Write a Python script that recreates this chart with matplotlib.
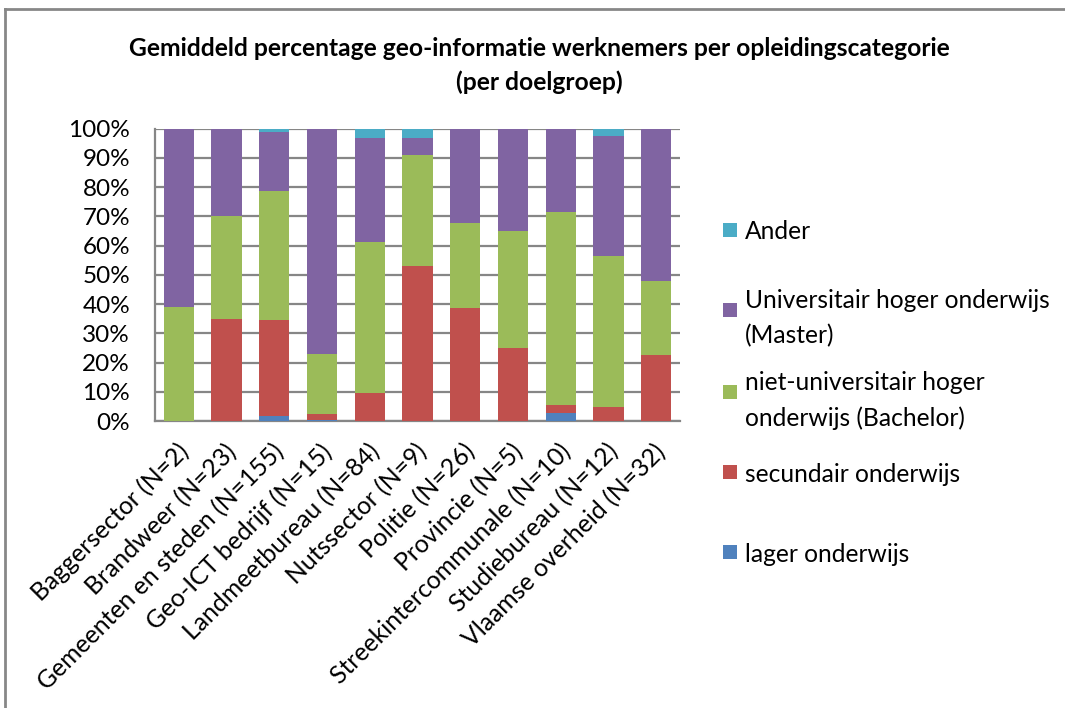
import matplotlib
matplotlib.use("Agg")
import matplotlib.pyplot as plt
import matplotlib.transforms as mtransforms
import numpy as np
from matplotlib.ticker import PercentFormatter, MultipleLocator
from matplotlib.patches import Rectangle
from matplotlib.lines import Line2D

plt.rcParams['font.family'] = ['Lato', 'DejaVu Sans']

title = "Gemiddeld percentage geo-informatie werknemers per opleidingscategorie\n(per doelgroep)"

categories = ["Baggersector (N=2)", "Brandweer (N=23)", "Gemeenten en steden (N=155)",
              "Geo-ICT bedrijf (N=15)", "Landmeetbureau (N=84)", "Nutssector (N=9)",
              "Politie (N=26)", "Provincie (N=5)", "Streekintercommunale (N=10)",
              "Studiebureau (N=12)", "Vlaamse overheid (N=32)"]

lager = [0, 0, 1.7, 0.4, 0, 0, 0, 0, 2.6, 0, 0]
secundair = [0, 35, 32.9, 2.1, 9.5, 52.9, 38.5, 25, 2.9, 4.9, 22.7]
bachelor = [39, 35, 44.2, 20.3, 51.6, 38.1, 29.2, 40, 66, 51.5, 25.2]
master = [61, 30, 20, 77.2, 35.8, 5.9, 32.3, 35, 28.5, 41.2, 52.1]
ander = [0, 0, 1.2, 0, 3.1, 3.1, 0, 0, 0, 2.4, 0]

series_names = ["lager onderwijs", "secundair onderwijs",
                "niet-universitair hoger\nonderwijs (Bachelor)",
                "Universitair hoger onderwijs\n(Master)", "Ander"]
series_values = [lager, secundair, bachelor, master, ander]
colors = ["#4F81BD", "#C0504D", "#9BBB59", "#8064A2", "#4BACC6"]

W, H = 1065, 708
fig = plt.figure(figsize=(W / 100, H / 100), dpi=100)
ax = fig.add_axes([155 / W, 1 - 421 / H, (680 - 155) / W, (421 - 128.7) / H])

x = np.arange(len(categories))
bottom = np.zeros(len(categories))
for name, vals, c in zip(series_names, series_values, colors):
    v = np.array(vals, dtype=float)
    ax.bar(x, v, width=0.635, bottom=bottom, color=c, edgecolor='none', zorder=3, label=name)
    bottom += v

ax.set_xlim(-0.5, len(categories) - 0.5)
ax.set_ylim(0, 100)
ax.yaxis.set_major_locator(MultipleLocator(10))
ax.yaxis.set_major_formatter(PercentFormatter(decimals=0))
ax.grid(axis='y', color='#868686', linewidth=1.6, zorder=0)
ax.set_axisbelow(True)
for s in ['top', 'right']:
    ax.spines[s].set_visible(False)
for s in ['left', 'bottom']:
    ax.spines[s].set_color('#868686')
    ax.spines[s].set_linewidth(1.6)
ax.tick_params(axis='y', length=0, pad=18, labelsize=17.5, colors='black')
ax.tick_params(axis='x', length=0, pad=10, labelsize=17.8)
ax.set_xticks(x)
ax.set_xticklabels(categories, rotation=45, ha='right', va='center', rotation_mode='anchor')
offset = mtransforms.ScaledTranslation(6 / 100, -13 / 100, fig.dpi_scale_trans)
for lbl in ax.get_xticklabels():
    lbl.set_transform(lbl.get_transform() + offset)

fig.text(0.506, 1 - 47 / H, title.split("\n")[0], ha='center', va='center_baseline',
         fontsize=17.7, fontweight='bold')
fig.text(0.506, 1 - 80 / H, title.split("\n")[1], ha='center', va='center_baseline',
         fontsize=17.7, fontweight='bold')

# legend (Excel style, evenly spaced, top = last series)
marker_y = [552, 472, 392, 310, 230]
for name, c, my in zip(series_names, colors, marker_y):
    fig.patches.append(Rectangle((723 / W, 1 - (my + 7) / H), 14 / W, 14 / H,
                                 transform=fig.transFigure, facecolor=c, edgecolor='none'))
    fig.text(745 / W, 1 - my / H, name, ha='left', va='center_baseline', fontsize=17.7,
             linespacing=1.65)

# chart frame
fig.add_artist(Line2D([5 / W, 1], [1 - 9 / H, 1 - 9 / H], color='#878787', lw=2,
                      transform=fig.transFigure))
fig.add_artist(Line2D([5 / W, 5 / W], [0, 1 - 9 / H], color='#878787', lw=2,
                      transform=fig.transFigure))

fig.savefig("out.png", dpi=100)
